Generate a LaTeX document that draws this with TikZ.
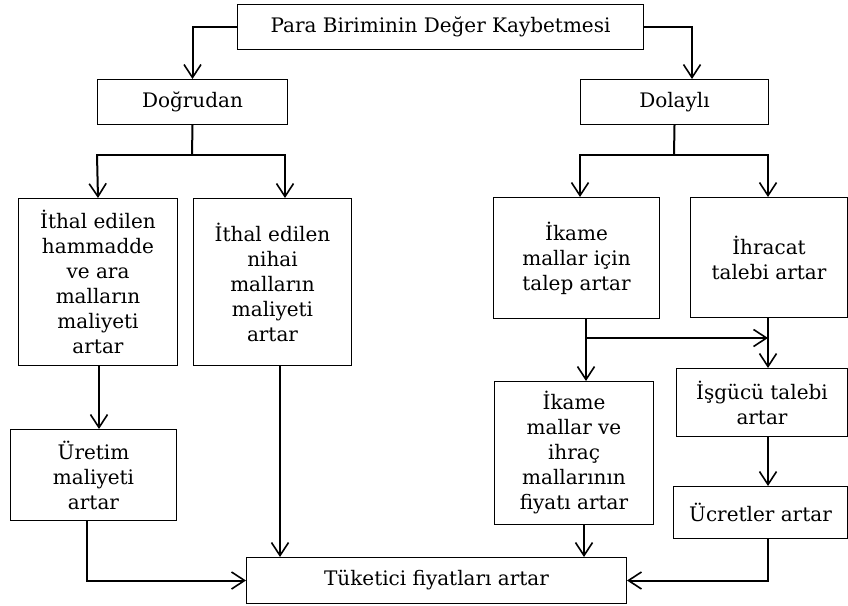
\documentclass[tikz,border=0pt]{standalone}
\usepackage{fontspec}
\setmainfont{DejaVu Serif}
\usetikzlibrary{arrows.meta}
\tikzset{
  box/.style={draw, line width=1pt, inner sep=0pt, anchor=north west, align=center,
    font=\fontsize{20}{25}\selectfont},
  conn/.style={line width=2pt},
  arr/.style={line width=2pt, -{Straight Barb[length=13pt,width=17pt,line width=1.6pt]}},
}
\begin{document}
\begin{tikzpicture}[x=1pt,y=-1pt]
\useasboundingbox (0,0) rectangle (848,605);
% boxes
\node[box, minimum width=406pt, minimum height=45pt] (top) at (237,4) {Para Biriminin Değer Kaybetmesi};
\node[box, minimum width=190pt, minimum height=45pt] (dog) at (97,79) {Doğrudan};
\node[box, minimum width=188pt, minimum height=45pt] (dol) at (580,79) {Dolaylı};
\node[box, minimum width=159pt, minimum height=167pt] (b1) at (18,198) {İthal edilen\\hammadde\\ve ara\\malların\\maliyeti\\artar};
\node[box, minimum width=158pt, minimum height=167pt] (b2) at (193,198) {İthal edilen\\nihai\\malların\\maliyeti\\artar};
\node[box, minimum width=166pt, minimum height=121pt] (ik) at (493,197) {İkame\\mallar için\\talep artar};
\node[box, minimum width=157pt, minimum height=120pt] (ih) at (690,197) {İhracat\\talebi artar};
\node[box, minimum width=166pt, minimum height=91pt] (ur) at (10,429) {Üretim\\maliyeti\\artar};
\node[box, minimum width=159pt, minimum height=143pt] (ik2) at (494,381) {İkame\\mallar ve\\ihraç\\mallarının\\fiyatı artar};
\node[box, minimum width=171pt, minimum height=68pt] (is) at (676,368) {İşgücü talebi\\artar};
\node[box, minimum width=174pt, minimum height=52pt] (uc) at (673,486) {Ücretler artar};
\node[box, minimum width=380pt, minimum height=46pt] (tu) at (246,557) {Tüketici fiyatları artar};
% connectors from the top box
\coordinate (dolin) at (692,79);
\draw[arr] (top.west) -| (dog.north);
\draw[arr] (top.east) -| (dolin);
% Dogrudan branch
\coordinate (dj) at (192,155);
\coordinate (dl) at (97,155);
\coordinate (dr) at (285,155);
\coordinate (b2in) at (285,198);
\draw[conn] (dog.south) -- (dj);
\draw[conn] ([xshift=-1pt]dl) -- ([xshift=1pt]dr);
\draw[arr] (dl) -- (b1.north);
\draw[arr] (dr) -- (b2in);
% Dolayli branch
\coordinate (rj) at (674,155);
\coordinate (rl) at (580,155);
\coordinate (rr) at (768,155);
\coordinate (ikin) at (580,197);
\coordinate (ihin) at (768,197);
\draw[conn] (dol.south) -- (rj);
\draw[conn] ([xshift=-1pt]rl) -- ([xshift=1pt]rr);
\draw[arr] (rl) -- (ikin);
\draw[arr] (rr) -- (ihin);
% left column
\coordinate (b1out) at (99,365);
\coordinate (urin) at (99,429);
\draw[arr] (b1out) -- (urin);
\coordinate (urout) at (87,520);
\coordinate (b2out) at (280,365);
\coordinate (tuin1) at (280,557);
\draw[arr] (b2out) -- (tuin1);
\draw[arr] (urout) |- (tu.west);
% right column
\coordinate (ikout) at (586,318);
\coordinate (ik2in) at (586,381);
\coordinate (ikj) at (586,338);
\coordinate (ihj) at (768,338);
\draw[arr] (ikout) -- (ik2in);
\draw[arr] (ikj) -- (ihj);
\coordinate (ihout) at (768,317);
\coordinate (isin) at (768,368);
\draw[arr] (ihout) -- (isin);
\coordinate (isout) at (768,436);
\coordinate (ucin) at (768,486);
\draw[arr] (isout) -- (ucin);
\coordinate (ucout) at (768,538);
\draw[arr] (ucout) |- (tu.east);
\coordinate (ik2out) at (584,524);
\coordinate (tuin2) at (584,557);
\draw[arr] (ik2out) -- (tuin2);
\end{tikzpicture}
\end{document}
